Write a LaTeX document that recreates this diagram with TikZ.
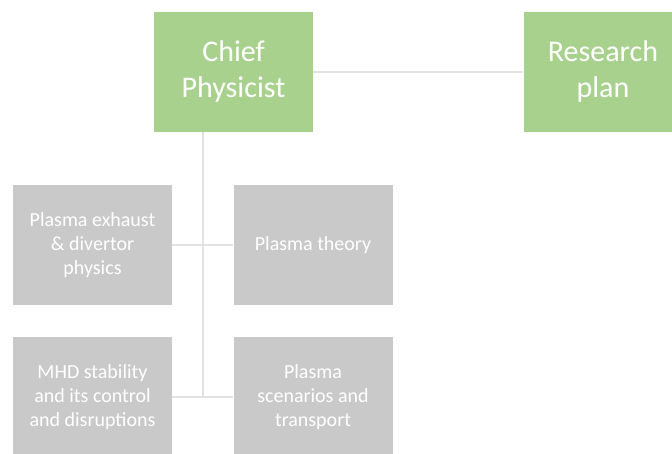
\documentclass[tikz,border=0pt]{standalone}
\usepackage{fontspec}
\setmainfont{Carlito}
\usetikzlibrary{positioning}
\definecolor{leafgreen}{HTML}{A9D18E}
\definecolor{unitgray}{HTML}{C9C9C9}
\definecolor{linkgray}{HTML}{E2E2E2}
\tikzset{
  head/.style={fill=leafgreen,text=white,minimum width=159pt,minimum height=120pt,inner sep=0pt,align=center,font=\fontsize{30}{36}\selectfont},
  unit/.style={fill=unitgray,text=white,minimum width=159pt,minimum height=120pt,inner sep=0pt,align=center,font=\fontsize{20}{24}\selectfont},
  link/.style={draw=linkgray,line width=1.5pt}
}
\begin{document}
\begin{tikzpicture}[x=1pt,y=-1pt]
\clip (0,0) rectangle (672,454);
\fill[white] (0,0) rectangle (672,454);
\node[head] (chief) at (233.5,72) {Chief\\Physicist};
\node[head] (plan) at (603,72) {Research\\plan};
\node[unit] (exhaust) at (92.5,245) {Plasma exhaust\\\& divertor\\physics};
\node[unit] (theory) at (313,245) {Plasma theory};
\node[unit] (mhd) at (92.5,397) {MHD stability\\and its control\\and disruptions};
\node[unit] (scen) at (313,397) {Plasma\\scenarios and\\transport};
\path (203,0) coordinate (trunk);
\draw[link] (chief) -- (plan);
\draw[link] (chief.south -| trunk) -- (mhd.east -| trunk);
\draw[link] (exhaust) -- (theory);
\draw[link] (mhd) -- (scen);
\end{tikzpicture}
\end{document}
